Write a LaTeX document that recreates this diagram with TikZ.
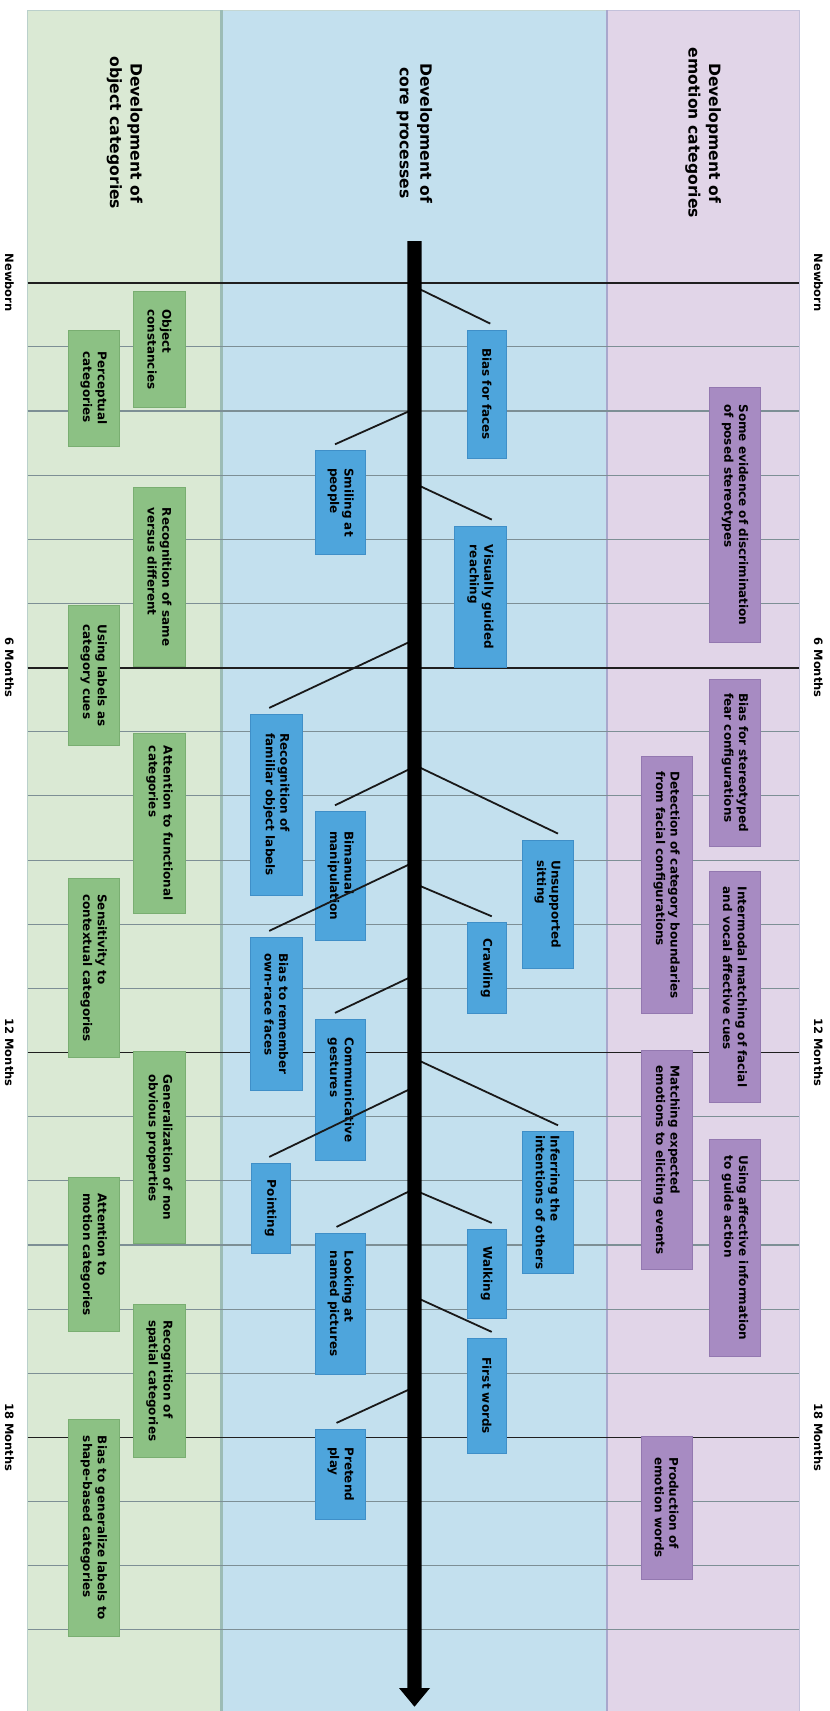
\documentclass[tikz,border=0pt]{standalone}
\usepackage{fontspec}
\setmainfont{DejaVu Sans}
\definecolor{objpanel}{HTML}{DAE9D4}
\definecolor{corepanel}{HTML}{C3E0EE}
\definecolor{emopanel}{HTML}{E1D5E8}
\definecolor{objdiv}{HTML}{9CBCB5}
\definecolor{emodiv}{HTML}{A9A7CC}
\definecolor{objfill}{HTML}{8CC184}
\definecolor{objedge}{HTML}{79AE71}
\definecolor{corefill}{HTML}{4EA5DC}
\definecolor{coreedge}{HTML}{3F8FC8}
\definecolor{emofill}{HTML}{A78BC2}
\definecolor{emoedge}{HTML}{9378B0}
\definecolor{gridgrey}{HTML}{7D8F95}
\begin{document}
\begin{tikzpicture}[x=1pt,y=-1pt,
  panelhead/.style={rotate=-90, align=center, inner sep=0pt,
    font=\fontsize{15.6}{20.5}\selectfont\bfseries},
  monthlbl/.style={rotate=-90, inner sep=0pt,
    font=\fontsize{11.5}{13}\selectfont\bfseries},
  cat/.style={rotate=-90, align=left, inner sep=0pt, line width=0.8pt,
    font=\fontsize{12}{14.6}\selectfont\bfseries},
  objbox/.style={cat, fill=objfill, draw=objedge},
  corebox/.style={cat, fill=corefill, draw=coreedge},
  emobox/.style={cat, fill=emofill, draw=emoedge},
  twoline/.style={minimum height=51.5pt},
  oneline/.style={minimum height=39pt},
  boxlen/.style={minimum width=#1},
  link/.style={line width=1.8pt, draw=black!90},
  minorline/.style={line width=1.1pt, draw=gridgrey},
  majorline/.style={line width=1.8pt, draw=black!88}
]
\useasboundingbox (0,0) rectangle (830,1711);
\fill[white] (0,0) rectangle (830,1711);

% three columns
\fill[objpanel] (27.6,10) rectangle (221.5,1711);
\fill[corepanel] (221.5,10) rectangle (606.8,1711);
\fill[emopanel] (606.8,10) rectangle (799,1711);
\draw[line width=0.6pt, draw=objdiv!70] (27.6,1711) -- (27.6,10) -- (221.5,10);
\draw[line width=0.6pt, draw=emodiv!70] (606.8,10) -- (799,10) -- (799,1711);
\draw[line width=0.6pt, draw=objdiv!60] (221.5,10) -- (606.8,10);
\draw[line width=2.2pt, draw=objdiv] (221.5,10) -- (221.5,1711);
\draw[line width=1.6pt, draw=emodiv] (606.8,10) -- (606.8,1711);

% column headings
\node[panelhead] (hobj) at (124.5,133) {Development of\\object categories};
\node[panelhead] (hcore) at (414.5,133) {Development of\\core processes};
\node[panelhead] (hemo) at (703,133) {Development of\\emotion categories};

% monthly grid
\foreach \k in {0,...,21} {
  \pgfmathsetmacro\yy{282.7+64.15*\k}
  \draw[minorline] (27.6,\yy) -- (799,\yy);
}
\foreach \k/\lbl in {0/Newborn, 6/6 Months, 12/12 Months, 18/18 Months} {
  \pgfmathsetmacro\yy{282.7+64.15*\k}
  \draw[majorline] (27.6,\yy) -- (799,\yy);
  \node[monthlbl] (agel\k) at (9.5,\yy) {\lbl};
  \node[monthlbl] (ager\k) at (818.5,\yy) {\lbl};
}

% object categories
\node[objbox, twoline, boxlen=116pt]   (perc)     at (93.8,388)     {Perceptual\\categories};
\node[objbox, twoline, boxlen=140.7pt] (labcues)  at (93.8,675.35)  {Using labels as\\category cues};
\node[objbox, twoline, boxlen=179.4pt] (context)  at (93.8,968)     {Sensitivity to\\contextual categories};
\node[objbox, twoline, boxlen=154pt]   (motion)   at (93.8,1254.7)  {Attention to\\motion categories};
\node[objbox, twoline, boxlen=217.4pt] (shape)    at (93.8,1528)    {Bias to generalize labels to\\shape-based categories};
\node[objbox, twoline, boxlen=115.6pt] (objconst) at (159.5,349.5)  {Object\\constancies};
\node[objbox, twoline, boxlen=179.4pt] (samediff) at (159.5,577)    {Recognition of same\\versus different};
\node[objbox, twoline, boxlen=180pt]   (funct)    at (159.5,823.3)  {Attention to functional\\categories};
\node[objbox, twoline, boxlen=191.6pt] (nonobv)   at (159.5,1147.5) {Generalization of non\\obvious properties};
\node[objbox, twoline, boxlen=153.3pt] (spatial)  at (159.5,1380.65){Recognition of\\spatial categories};

% connectors from the time axis
\coordinate (sfaces)    at (414.5,286.6);
\coordinate (ssmile)    at (414.5,408.8);
\coordinate (sreach)    at (414.5,483.5);
\coordinate (sfamil)    at (414.5,639.6);
\coordinate (sbiman)    at (414.5,766.7);
\coordinate (ssit)      at (414.5,765);
\coordinate (sown)      at (414.5,861.9);
\coordinate (scrawl)    at (414.5,883.6);
\coordinate (scomm)     at (414.5,975.2);
\coordinate (sinfer)    at (414.5,1058.5);
\coordinate (spoint)    at (414.5,1086.9);
\coordinate (slook)     at (414.5,1188.7);
\coordinate (swalk)     at (414.5,1190.1);
\coordinate (sfirst)    at (414.5,1296.7);
\coordinate (spretend)  at (414.5,1387);

% core processes
\node[corebox, twoline, boxlen=180.7pt] (famil)   at (276.35,804.65) {Recognition of\\familiar object labels};
\node[corebox, twoline, boxlen=153.4pt] (ownrace) at (276.35,1014)   {Bias to remember\\own-race faces};
\node[corebox, oneline, boxlen=90pt]    (point)   at (270.55,1208.3) {Pointing};
\node[corebox, twoline, minimum height=49.9pt, boxlen=103.6pt] (smile)   at (340.75,502.5)  {Smiling at\\people};
\node[corebox, twoline, minimum height=49.9pt, boxlen=128.3pt] (biman)   at (340.75,875.85) {Bimanual\\manipulation};
\node[corebox, twoline, minimum height=49.9pt, boxlen=141.4pt] (comm)    at (340.75,1090)   {Communicative\\gestures};
\node[corebox, twoline, minimum height=49.9pt, boxlen=140.7pt] (look)    at (340.75,1303.65){Looking at\\named pictures};
\node[corebox, twoline, minimum height=49.9pt, boxlen=90pt]    (pretend) at (340.75,1474.3) {Pretend\\play};
\node[corebox, oneline, boxlen=128.3pt] (faces)   at (486.75,394.15) {Bias for faces};
\node[corebox, twoline, boxlen=141.7pt] (reach)   at (480.4,596.85)  {Visually guided\\reaching};
\node[corebox, oneline, boxlen=90.6pt]  (crawl)   at (486.75,968)    {Crawling};
\node[corebox, oneline, boxlen=89pt]    (walk)    at (486.75,1273.8) {Walking};
\node[corebox, oneline, boxlen=115pt]   (first)   at (486.75,1395.8) {First words};
\node[corebox, twoline, boxlen=128.3pt] (sit)     at (547.7,904.15)  {Unsupported\\sitting};
\node[corebox, twoline, boxlen=141.6pt] (infer)   at (547.7,1202.5)  {Inferring the\\intentions of others};

\draw[link] (sfaces)   -- ([xshift=3.5pt,  yshift=6pt]faces.west);
\draw[link] (ssmile)   -- ([xshift=-5.75pt,yshift=6pt]smile.west);
\draw[link] (sreach)   -- ([xshift=11.4pt, yshift=6pt]reach.west);
\draw[link] (sfamil)   -- ([xshift=-7.15pt,yshift=6pt]famil.west);
\draw[link] (sbiman)   -- ([xshift=-5.75pt,yshift=6pt]biman.west);
\draw[link] (ssit)     -- ([xshift=10.3pt, yshift=6pt]sit.west);
\draw[link] (sown)     -- ([xshift=-7.15pt,yshift=6pt]ownrace.west);
\draw[link] (scrawl)   -- ([xshift=5pt,    yshift=6pt]crawl.west);
\draw[link] (scomm)    -- ([xshift=-5.75pt,yshift=6pt]comm.west);
\draw[link] (sinfer)   -- ([xshift=10.3pt, yshift=6pt]infer.west);
\draw[link] (spoint)   -- ([xshift=-1.35pt,yshift=6pt]point.west);
\draw[link] (slook)    -- ([xshift=-4.25pt,yshift=6pt]look.west);
\draw[link] (swalk)    -- ([xshift=5pt,    yshift=6pt]walk.west);
\draw[link] (sfirst)   -- ([xshift=5pt,    yshift=6pt]first.west);
\draw[link] (spretend) -- ([xshift=-4.25pt,yshift=6pt]pretend.west);

% time axis with arrow head
\fill[black] (407.3,241) -- (421.7,241) -- (421.7,1688) -- (430,1688)
  -- (414.5,1706.7) -- (399,1688) -- (407.3,1688) -- cycle;

% emotion categories
\node[emobox, twoline, minimum height=50.9pt, boxlen=256.6pt] (bound)  at (666.65,885)     {Detection of category boundaries\\from facial configurations};
\node[emobox, twoline, minimum height=50.9pt, boxlen=218.6pt] (elicit) at (666.65,1160)    {Matching expected\\emotions to eliciting events};
\node[emobox, twoline, minimum height=50.9pt, boxlen=143.3pt] (words)  at (666.65,1507.65) {Production of\\emotion words};
\node[emobox, twoline, boxlen=254.6pt] (posed) at (735,515)     {Some evidence of discrimination\\of posed stereotypes};
\node[emobox, twoline, boxlen=166.7pt] (fear)  at (735,762.65)  {Bias for stereotyped\\fear configurations};
\node[emobox, twoline, boxlen=230.6pt] (inter) at (735,987)     {Intermodal matching of facial\\and vocal affective cues};
\node[emobox, twoline, boxlen=217.7pt] (guide) at (735,1247.85) {Using affective information\\to guide action};
\end{tikzpicture}
\end{document}
